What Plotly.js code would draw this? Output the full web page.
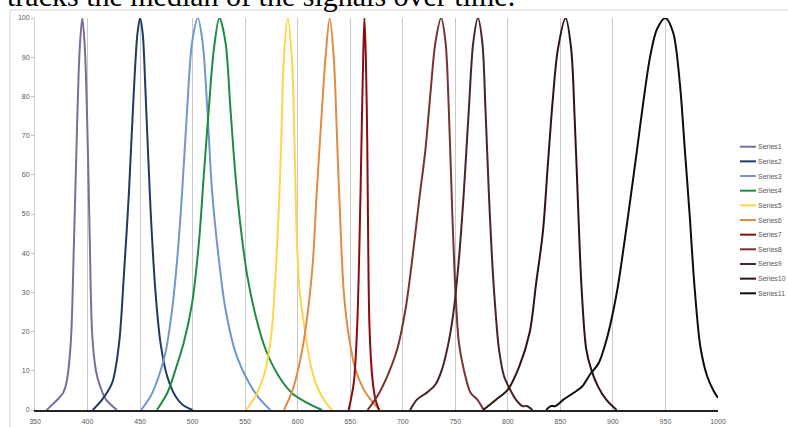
<!DOCTYPE html>
<html><head><meta charset="utf-8">
<script src="https://cdn.plot.ly/plotly-3.0.1.min.js"></script>
<style>html,body{margin:0;padding:0;background:#fff;overflow:hidden}#chart{width:788px;height:427px}</style>
</head><body><div id="chart"></div>
<script>
// ---- data ----
const seriesNames = ["Series1","Series2","Series3","Series4","Series5","Series6","Series7","Series8","Series9","Series10","Series11"];
const seriesColors = ["#7D6B9A","#1F3B61","#6F98CC","#1F8B46","#FFD54A","#E08C44","#8E0B0B","#773232","#4B2424","#301414","#0D0D0D"];

const s1x = [361, 367, 372, 377, 380, 384, 387, 390, 392.5, 395, 397.5, 400, 402, 404.5, 408, 412, 418, 428];
const s1y = [0, 1.5, 2.8, 4.5, 7, 17, 42, 72, 92, 100, 92, 70, 45, 19, 10, 6, 2.5, 0];

const s2x = [405, 414, 423.5, 430, 434.5, 439.3, 444, 447.5, 450, 452.5, 455.2, 460, 464.7, 469.5, 475.8, 483.7, 491, 500];
const s2y = [0, 2.7, 7, 17, 34, 55, 81, 96, 100, 96, 81, 51, 30, 17, 8.6, 3.5, 1.2, 0];

const s3x = [451, 460, 467.8, 474.2, 480.5, 485.3, 490, 494.8, 499.5, 505, 509.5, 514, 518.6, 525, 531.3, 540.8, 553.5, 563, 574];
const s3y = [0, 3.5, 8.6, 14.7, 25.7, 38.4, 55.5, 76.8, 93.8, 100, 93.8, 76.8, 55.5, 38.4, 25.7, 14.7, 7, 3.1, 0];

const s4x = [466, 476, 483.7, 491.6, 499.6, 506, 510.6, 515.4, 520.2, 525.5, 531.3, 536, 540.8, 545.6, 552, 560, 569.4, 582, 595, 609, 623];
const s4y = [0, 4.4, 10.3, 17.2, 27.4, 42.7, 59.7, 76.8, 92, 100, 93.8, 76.8, 59.7, 47, 34.2, 24, 15.5, 8.6, 4.2, 1.8, 0];

const s5x = [551, 559.8, 567.7, 572.5, 575.7, 578.9, 582, 584.3, 586.8, 590.5, 594.5, 597, 599, 602, 607, 612, 617, 624, 632.5];
const s5y = [0, 3.5, 8.6, 14.6, 21.4, 34.2, 51.2, 68.2, 89.5, 100, 89.5, 68, 45, 30, 20, 12, 7, 3, 0];

const s6x = [587, 595, 601, 606, 610.5, 614.5, 618, 622, 626.5, 630.5, 634.4, 637.6, 640.7, 643.9, 648.6, 655, 662.9, 669.3, 678];
const s6y = [0, 5, 11, 18, 27, 38, 55, 72, 90, 100, 89.5, 68.2, 47, 30, 18.9, 10.3, 5.2, 2.7, 0];

const s7x = [648.5, 653.4, 656.6, 658.8, 660.7, 662.3, 663.5, 664.9, 666.2, 667.1, 668.3, 670.9, 674, 677.5];
const s7y = [0, 7, 21.4, 42.7, 68.2, 89.5, 100, 89.5, 68.2, 42.7, 21.4, 8.6, 2.7, 0];

const s8x = [666.5, 675.7, 685.2, 694.7, 702.6, 709, 715.3, 721.6, 726.4, 731.1, 736.5, 740.7, 743.8, 747, 750.2, 753.4, 758.1, 764.5, 770.8, 777];
const s8y = [0, 3.5, 8.6, 15.5, 25.7, 38.4, 52.9, 66.5, 81, 93.8, 100, 93.8, 76.8, 51.2, 30, 17.2, 10.3, 4.4, 2.7, 0];

const s9x = [707, 713.7, 723.2, 731.1, 737.5, 743.8, 748.6, 753.4, 758.1, 762.9, 767.1, 771.5, 775.7, 778.7, 781.9, 785, 787.5, 791.6, 796.4, 801.2, 807.5, 813.8, 818, 823.5];
const s9y = [0, 2.7, 4.5, 6.5, 10.5, 17.5, 25.7, 38.4, 55.5, 76.8, 93.8, 100, 93.8, 76.8, 55.5, 38.4, 28, 15.4, 8.6, 5.7, 2.7, 1, 1, 0];

const s10x = [776.5, 789, 800, 811, 820.7, 827, 833.3, 838, 842.8, 847.6, 855, 860.3, 863.5, 866.6, 869.9, 874.6, 879.4, 885.6, 893.5, 903.5];
const s10y = [0, 2.7, 5.2, 11.2, 19.7, 32.5, 45.3, 62.3, 79.3, 92, 100, 92, 75, 53.8, 32.5, 15.5, 10.3, 6.1, 2.7, 0];

const s11x = [836.5, 840.6, 845.3, 853.2, 862.7, 870.7, 878, 886.5, 894.5, 900.5, 905, 910.5, 916.6, 923, 929.3, 935.6, 942, 950, 957.3, 963.6, 968.4, 973.1, 977.5, 983.3, 989.7, 996, 1000];
const s11y = [0, 1, 1, 2.7, 4.4, 6, 9, 12, 18.5, 25.5, 32, 42, 53.8, 66.5, 79.3, 90.4, 97.2, 100, 96.3, 83.6, 66.5, 49.5, 32, 16, 8.6, 4.8, 3.1];

const xTickVals = [350,400,450,500,550,600,650,700,750,800,850,900,950,1000];
const yTickVals = [0,10,20,30,40,50,60,70,80,90,100];
const headerText = "tracks the median of the signals over time.";

// ---- build ----
const allX = [s1x,s2x,s3x,s4x,s5x,s6x,s7x,s8x,s9x,s10x,s11x];
const allY = [s1y,s2y,s3y,s4y,s5y,s6y,s7y,s8y,s9y,s10y,s11y];

const W = 788, H = 427, L = 35, R = 70, T = 18, B = 17;
const pw = W - L - R, ph = H - T - B;
const px2x = p => (p - L) / pw;
const py2y = p => (H - B - p) / ph;

const traces = allX.map((xs, i) => ({
  x: xs, y: allY[i], name: seriesNames[i], type: 'scatter', mode: 'lines',
  line: {color: seriesColors[i], width: 2, shape: 'spline', smoothing: 0.9},
  showlegend: false, hoverinfo: 'skip'
}));

const shapes = [{
  type: 'rect', xref: 'paper', yref: 'paper', layer: 'below',
  x0: px2x(10), x1: px2x(820), y0: py2y(450), y1: py2y(10),
  line: {color: '#d4d4d4', width: 1}, fillcolor: 'rgba(0,0,0,0)'
}];
const annotations = [{
  text: headerText, xref: 'paper', yref: 'paper', x: px2x(5), y: py2y(-4.8),
  xanchor: 'left', yanchor: 'middle', showarrow: false,
  font: {family: 'Liberation Serif, Times New Roman, serif', size: 30, color: '#000'}
}];
seriesNames.forEach((nm, i) => {
  const yy = 146.7 + i * 14.66;
  shapes.push({type: 'line', xref: 'paper', yref: 'paper',
    x0: px2x(740), x1: px2x(756), y0: py2y(yy), y1: py2y(yy),
    line: {color: seriesColors[i], width: 2}});
  annotations.push({text: nm, xref: 'paper', yref: 'paper', x: px2x(756.5), y: py2y(yy),
    xanchor: 'left', yanchor: 'middle', showarrow: false,
    font: {family: 'Liberation Sans, Arial, sans-serif', size: 7, color: '#595959'}});
});

const layout = {
  width: W, height: H, margin: {l: L, r: R, t: T, b: B, pad: 0},
  paper_bgcolor: '#fff', plot_bgcolor: '#fff', showlegend: false,
  font: {family: 'Liberation Sans, Arial, sans-serif', size: 7, color: '#595959'},
  xaxis: {range: [350, 1000], tickvals: xTickVals, ticktext: xTickVals.map(String),
    showgrid: true, gridcolor: '#c9c9c9', gridwidth: 1, zeroline: false,
    showline: true, linecolor: '#222', linewidth: 1.5,
    ticks: 'outside', ticklen: 4, tickcolor: 'rgba(0,0,0,0)',
    tickfont: {size: 7, color: '#595959'}, fixedrange: true},
  yaxis: {range: [0, 100], tickvals: yTickVals, ticktext: yTickVals.map(String),
    showgrid: false, zeroline: false, showline: true, linecolor: '#cfcfcf', linewidth: 1,
    ticks: 'outside', ticklen: 3, tickcolor: '#bfbfbf',
    tickfont: {size: 7, color: '#595959'}, fixedrange: true},
  shapes: shapes, annotations: annotations
};

Plotly.newPlot('chart', traces, layout, {displayModeBar: false, staticPlot: true});
</script></body></html>
